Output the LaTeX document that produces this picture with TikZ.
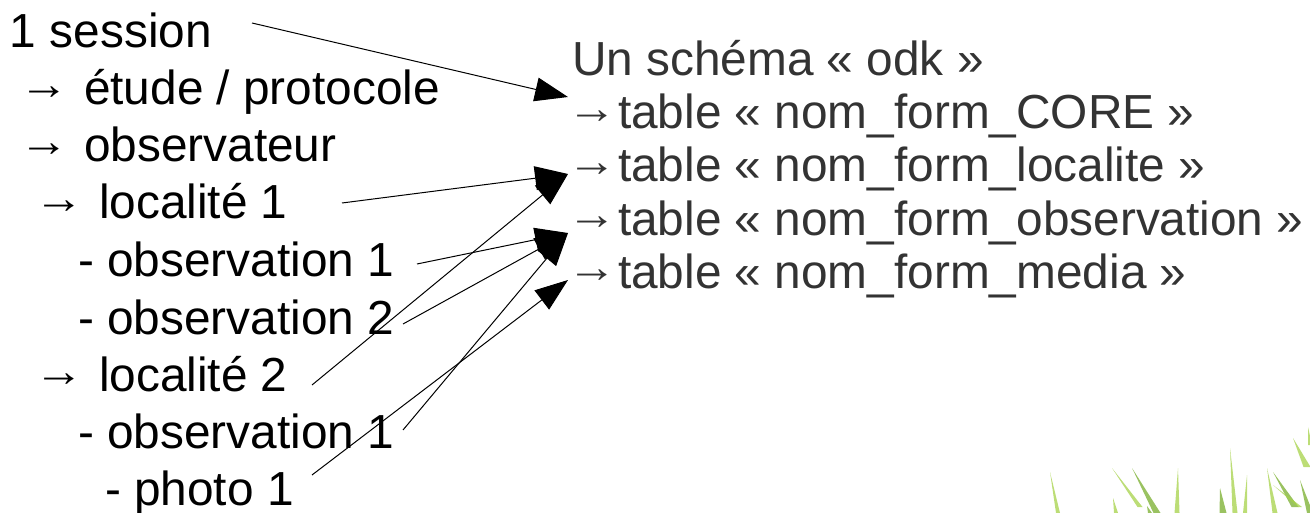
\documentclass[tikz,border=0pt]{standalone}
\usepackage{fontspec}
\setmainfont{Liberation Sans}
\usetikzlibrary{arrows.meta}
\definecolor{rtext}{HTML}{333333}
\definecolor{grassA}{HTML}{A5D148}
\definecolor{grassB}{HTML}{78AE2C}
\newcommand\bigarr{\kern-5.5pt\raisebox{2.5pt}{\scalebox{1.55}[1.4]{\fontsize{16}{16}\selectfont →}}}
\newcommand\larr{\makebox[27pt][l]{\bigarr}}
\newcommand\rarr{\makebox[20pt][l]{\bigarr}}
\newcommand\grassblade[6]{\fill[#6,opacity=.75] (#1,#2) -- (#3-#5,#4) -- (#3+#5,#4) -- cycle;}
\begin{document}
\begin{tikzpicture}[x=0.5pt,y=-0.5pt,
  ltext/.style={anchor=base west, inner sep=0pt, outer sep=0pt, font=\fontsize{23.9}{28}\selectfont, text=black},
  rtextst/.style={anchor=base west, inner sep=0pt, outer sep=0pt, font=\fontsize{23.9}{28}\selectfont, text=rtext},
  link/.style={draw=black, line width=0.5pt, -{Triangle[length=16.5pt,width=12pt]}}]
\useasboundingbox (0,0) rectangle (1310,513);
% left column
\node[ltext] (session) at (10,48) {1 session};
\node[ltext] (etude) at (30,105) {\larr étude / protocole};
\node[ltext] (obsv) at (30,162) {\larr observateur};
\node[ltext] (loc1) at (45,219) {\larr localité 1};
\node[ltext] (oa) at (78,276) {- observation 1};
\node[ltext] (ob) at (78,334) {- observation 2};
\node[ltext] (loc2) at (45,391) {\larr localité 2};
\node[ltext] (oc) at (78,448) {- observation 1};
\node[ltext] (photo) at (105,505) {- photo 1};
% right column
\node[rtextst] (odk) at (572,76) {Un schéma « odk »};
\node[rtextst] (core) at (578,129) {\rarr table « nom\_form\_CORE »};
\node[rtextst] (tloc) at (578,182) {\rarr table « nom\_form\_localite »};
\node[rtextst] (tobs) at (578,235) {\rarr table « nom\_form\_observation »};
\node[rtextst] (tmed) at (578,288) {\rarr table « nom\_form\_media »};
% connector ends
\coordinate (sSession) at (252,23);
\coordinate (sLoc1) at (342,203);
\coordinate (sOa) at (417,264);
\coordinate (sOb) at (403,324);
\coordinate (sLoc2) at (312,385);
\coordinate (sOc) at (403,430);
\coordinate (sPhoto) at (312,475);
\coordinate (tOdk) at (568,97);
\coordinate (tLoc) at (568,174);
\coordinate (tObs) at (568,233);
\coordinate (tMed) at (568,280);
\draw[link] (sSession) -- (tOdk);
\draw[link] (sLoc1) -- (tLoc);
\draw[link] (sLoc2) -- (tLoc);
\draw[link] (sOa) -- (tObs);
\draw[link] (sOb) -- (tObs);
\draw[link] (sOc) -- (tObs);
\draw[link] (sPhoto) -- (tMed);
% grass
\grassblade{1050}{472}{1058}{513}{2}{grassA}
\grassblade{1112}{468}{1140}{507}{2.5}{grassA}
\grassblade{1132}{468}{1157}{513}{3.5}{grassB}
\grassblade{1113}{498}{1116}{513}{2}{grassA}
\grassblade{1178}{468}{1177}{513}{2.5}{grassA}
\grassblade{1147}{506}{1150}{513}{2}{grassB}
\grassblade{1230}{448}{1235}{513}{2.5}{grassA}
\grassblade{1220}{488}{1223}{513}{3.5}{grassB}
\grassblade{1247}{475}{1245}{513}{2}{grassA}
\grassblade{1267}{468}{1275}{513}{2.5}{grassA}
\grassblade{1273}{472}{1295}{507}{3.5}{grassB}
\grassblade{1273}{485}{1300}{507}{2}{grassA}
\grassblade{1293}{438}{1307}{467}{3.5}{grassA}
\grassblade{1308}{427}{1310}{445}{2}{grassA}
\grassblade{1300}{480}{1310}{513}{3}{grassB}
\end{tikzpicture}
\end{document}
